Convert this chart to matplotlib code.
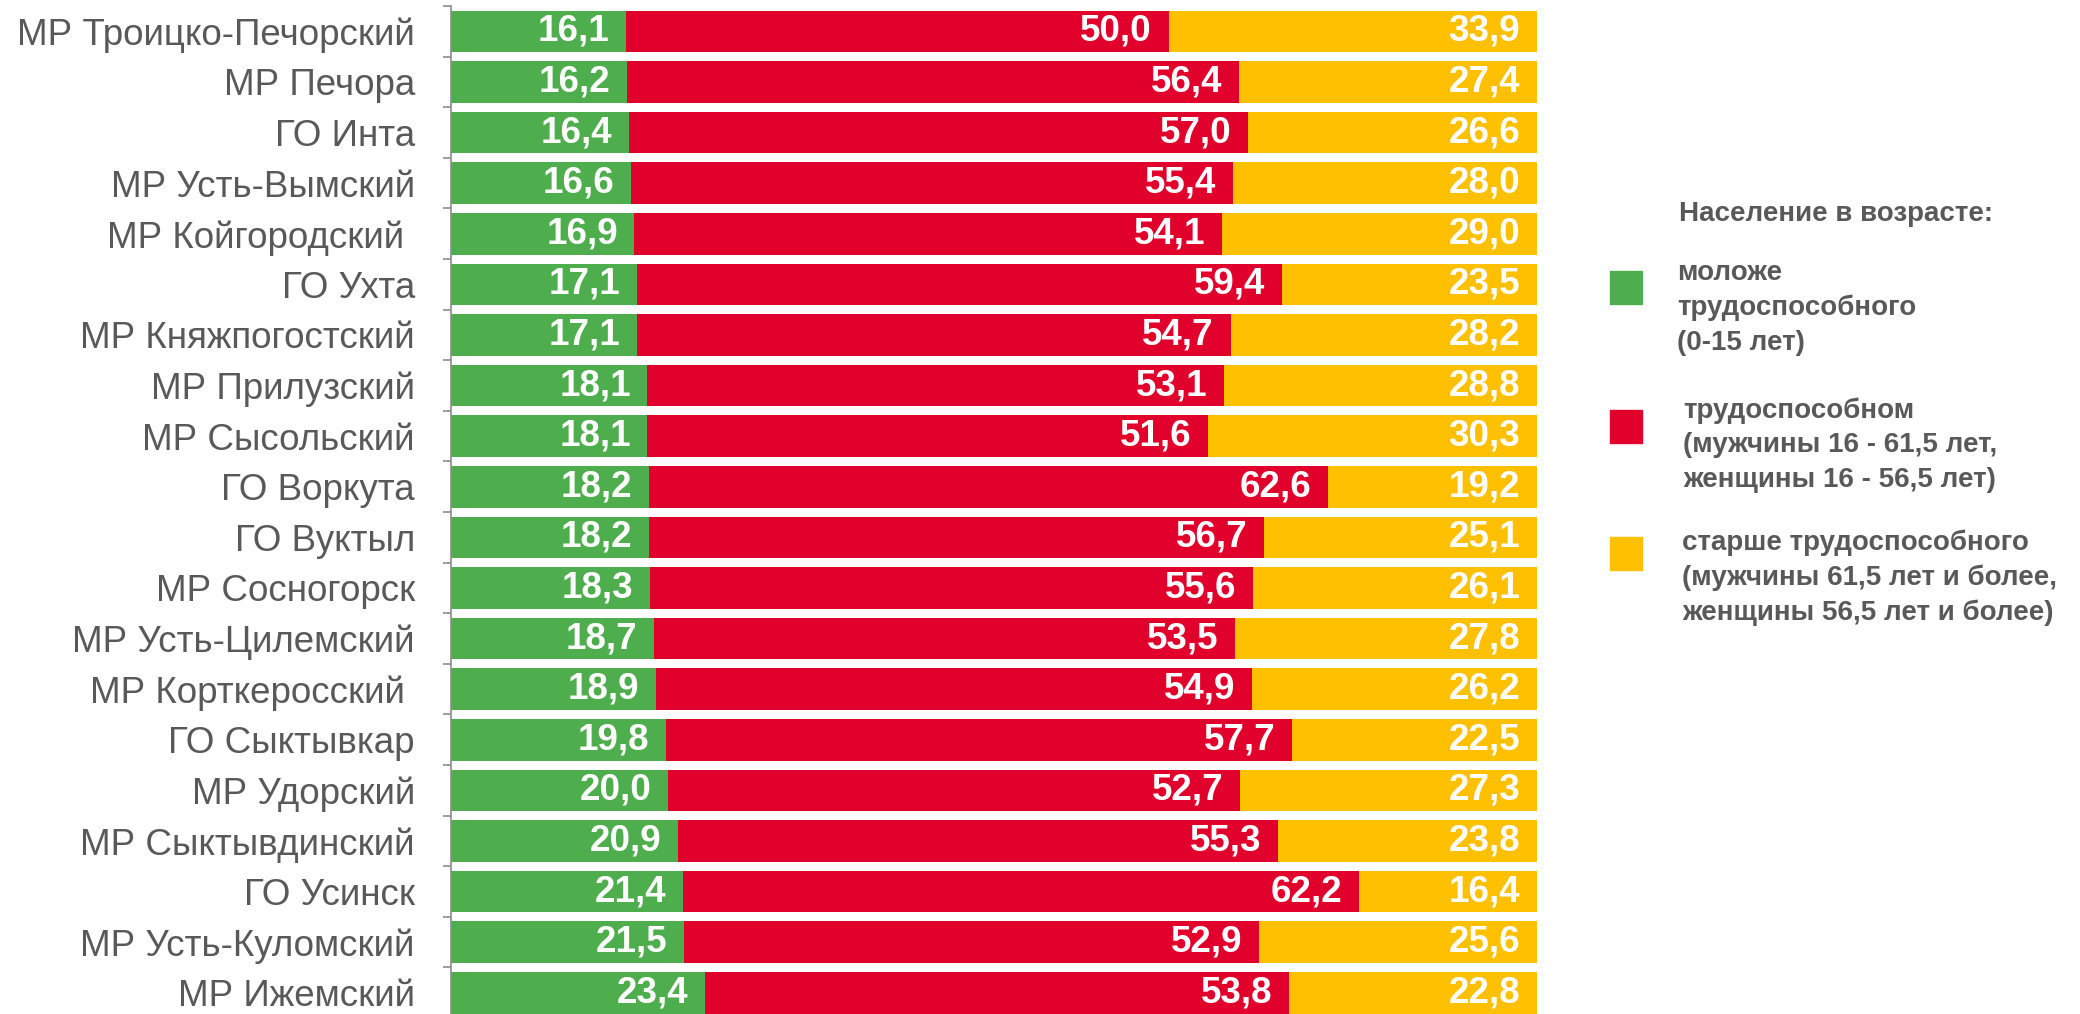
import matplotlib.pyplot as plt
import numpy as np

plt.rcParams['font.family'] = ['Liberation Sans', 'DejaVu Sans']

districts = ["МР Троицко-Печорский", "МР Печора", "ГО Инта", "МР Усть-Вымский",
             "МР Койгородский ", "ГО Ухта", "МР Княжпогостский", "МР Прилузский",
             "МР Сысольский", "ГО Воркута", "ГО Вуктыл", "МР Сосногорск",
             "МР Усть-Цилемский", "МР Корткеросский ", "ГО Сыктывкар", "МР Удорский",
             "МР Сыктывдинский", "ГО Усинск", "МР Усть-Куломский", "МР Ижемский"]
young = [16.1, 16.2, 16.4, 16.6, 16.9, 17.1, 17.1, 18.1, 18.1, 18.2,
         18.2, 18.3, 18.7, 18.9, 19.8, 20.0, 20.9, 21.4, 21.5, 23.4]
working = [50.0, 56.4, 57.0, 55.4, 54.1, 59.4, 54.7, 53.1, 51.6, 62.6,
           56.7, 55.6, 53.5, 54.9, 57.7, 52.7, 55.3, 62.2, 52.9, 53.8]
older = [33.9, 27.4, 26.6, 28.0, 29.0, 23.5, 28.2, 28.8, 30.3, 19.2,
         25.1, 26.1, 27.8, 26.2, 22.5, 27.3, 23.8, 16.4, 25.6, 22.8]

legend_title = "Население в возрасте:"
legend_labels = ["моложе\nтрудоспособного\n(0-15 лет)",
                 "трудоспособном\n(мужчины 16 - 61,5 лет,\nженщины 16 - 56,5 лет)",
                 "старше трудоспособного\n(мужчины 61,5 лет и более,\nженщины 56,5 лет и более)"]
colors = ['#4EAE4E', '#E0002B', '#FFC000']
gray = '#595959'

fig = plt.figure(figsize=(20.8, 10.14), dpi=100)
ax = fig.add_axes([0.2168, -0.004, 0.522, 0.998])

y = np.arange(len(districts))
left = np.zeros(len(districts))
for vals, c in zip([young, working, older], colors):
    vals = np.array(vals)
    bars = ax.barh(y, vals, left=left, height=0.82, color=c, edgecolor='none')
    left = left + vals
    for b, v in zip(bars, vals):
        ax.annotate(f"{v:.1f}".replace('.', ','),
                    xy=(b.get_x() + b.get_width(), b.get_y() + b.get_height() / 2),
                    xytext=(-12, 0), textcoords='offset points',
                    ha='right', va='center', color='white',
                    fontsize=26.5, fontweight='bold')

ax.set_xlim(0, 100)
ax.set_ylim(len(districts) - 0.5, -0.5)

for s in ['top', 'right', 'bottom']:
    ax.spines[s].set_visible(False)
ax.spines['left'].set_color('#8C8C8C')
ax.spines['left'].set_linewidth(1.2)
ax.set_xticks([])

# ticks sit between the categories, labels sit at the centres
ax.set_yticks(np.arange(-0.5, len(districts), 1.0))
ax.set_yticklabels([])
ax.tick_params(axis='y', which='major', length=6, color='#8C8C8C', width=1.2)
ax.set_yticks(y, minor=True)
ax.set_yticklabels(districts, minor=True)
ax.tick_params(axis='y', which='minor', length=0, pad=26, labelsize=26.5, labelcolor=gray)

# legend drawn by hand
fig.text(1679 / 2080, 1 - 214 / 1014, legend_title, fontsize=20, fontweight='bold',
         color=gray, ha='left', va='center')
sq_y = [288, 427, 554]
txt_y = [308, 445, 578]
txt_x = [1677, 1683, 1682]
for c, lab, yy, ty, tx in zip(colors, legend_labels, sq_y, txt_y, txt_x):
    fig.patches.append(plt.Rectangle((1610 / 2080, 1 - (yy + 16) / 1014), 32 / 2080, 33 / 1014,
                                     transform=fig.transFigure, color=c, figure=fig))
    fig.text(tx / 2080, 1 - ty / 1014, lab, fontsize=20, fontweight='bold',
             color=gray, ha='left', va='center', linespacing=1.42)

fig.savefig('out.png', dpi=100)
